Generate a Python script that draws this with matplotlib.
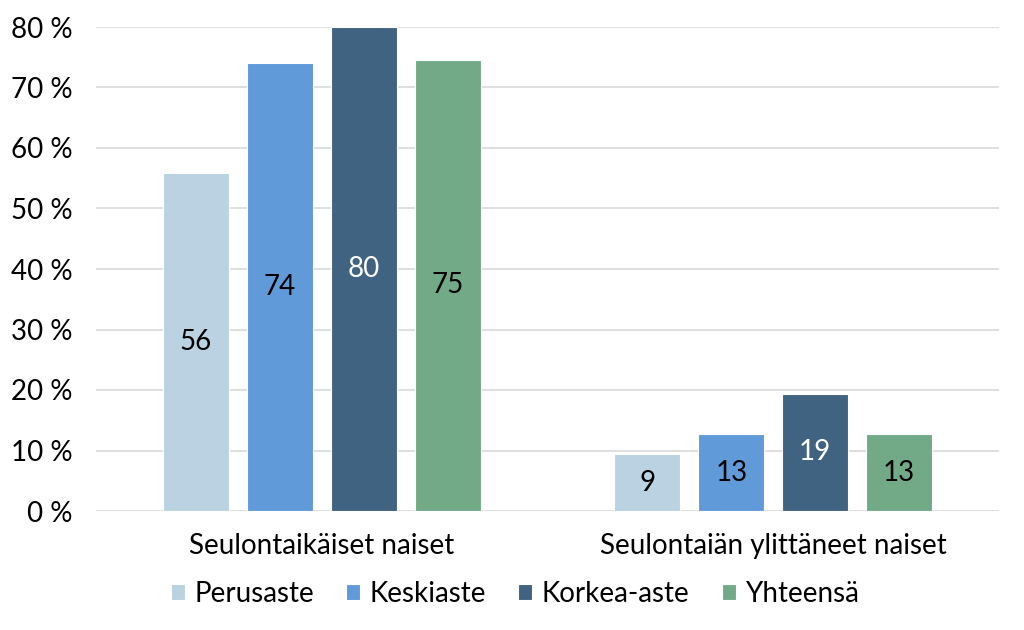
import matplotlib.pyplot as plt
import numpy as np

# --------------------------------------------------------
# Data
# --------------------------------------------------------
groups = ['Seulontaikäiset naiset', 'Seulontaiän ylittäneet naiset']
series = ['Perusaste', 'Keskiaste', 'Korkea-aste', 'Yhteensä']
values = {
    'Perusaste': [55.8, 9.4],
    'Keskiaste': [74.0, 12.7],
    'Korkea-aste': [80.0, 19.4],
    'Yhteensä': [74.6, 12.7],
}
colors = ['#BAD2E2', '#609AD8', '#406382', '#72AA88']
label_colors = ['black', 'black', 'white', 'black']
yticks = [0, 10, 20, 30, 40, 50, 60, 70, 80]

plt.rcParams['font.family'] = ['Lato', 'DejaVu Sans']
fs = 20

fig = plt.figure(figsize=(10.24, 6.3), dpi=100)
ax = fig.add_axes([96 / 1024, 1 - 511 / 630, 903 / 1024, (511 - 27) / 630])

x = np.arange(len(groups))
width = 0.146
step = 0.186

for i, name in enumerate(series):
    pos = x + step * (i - 1.5)
    bars = ax.bar(pos, values[name], width, color=colors[i], label=name,
                  edgecolor='white', linewidth=0.8, zorder=3)
    for b, v in zip(bars, values[name]):
        ax.text(b.get_x() + b.get_width() / 2, v / 2, f'{v:.0f}',
                ha='center', va='center', fontsize=fs, color=label_colors[i], zorder=4)

ax.set_xlim(-0.5, 1.5)
ax.set_ylim(0, 80)
ax.set_yticks(yticks)
ax.set_yticklabels([f'{t} %' for t in yticks], fontsize=fs)
ax.set_xticks(x)
ax.set_xticklabels(groups, fontsize=fs)
ax.tick_params(axis='y', length=0, pad=17)
ax.tick_params(axis='x', length=0, pad=16)
ax.grid(axis='y', color='#D9D9D9', linewidth=1.2, zorder=0)
for s in ax.spines.values():
    s.set_visible(False)

fig.legend(loc='center', bbox_to_anchor=(0.503, 1 - 594 / 630), ncol=4, frameon=False,
           fontsize=fs, handlelength=0.5, handleheight=0.5, handletextpad=0.35,
           columnspacing=1.15)

fig.savefig('out.png', dpi=100)
